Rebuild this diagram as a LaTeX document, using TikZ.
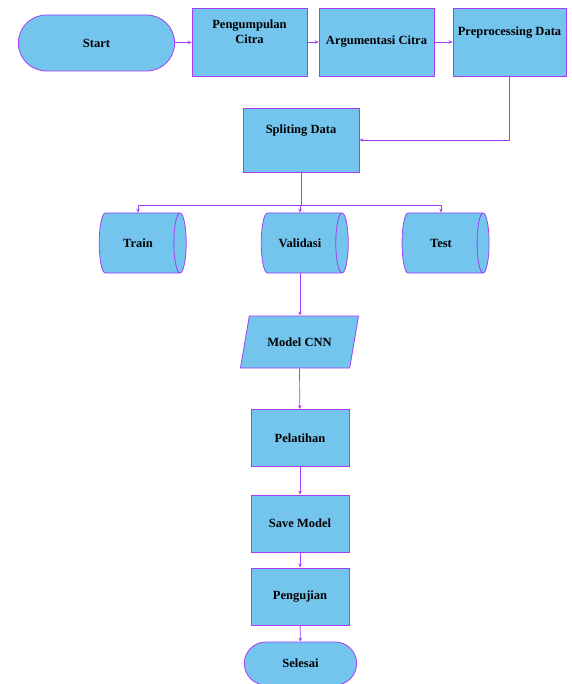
\documentclass[tikz,border=0pt]{standalone}
\usepackage{fontspec}
\setmainfont{Liberation Serif}
\usetikzlibrary{positioning,shapes.geometric,shapes.misc,arrows.meta}

\begin{document}
\begin{tikzpicture}[x=1pt,y=-1pt,
  font=\bfseries\fontsize{12.5}{15}\selectfont,
  box/.style={rectangle,draw=garis,fill=isian,line width=0.8pt,align=center,inner sep=1pt},
  atas/.style={text depth=21pt},
  ujung/.style={rounded rectangle,draw=garis,fill=isian,line width=0.8pt},
  tabung/.style={cylinder,shape border rotate=0,aspect=0.8,draw=garis,fill=isian,
    line width=0.8pt,minimum width=60pt,minimum height=87pt},
  panah/.style={draw=garis,line width=0.7pt,-{Stealth[length=4pt,width=3.5pt]}}]
  \definecolor{isian}{HTML}{74C5EE}
  \definecolor{garis}{HTML}{A43DF5}

  \useasboundingbox (0,0) rectangle (571,684);

  % baris atas
  \node[ujung,minimum width=163pt,minimum height=56pt] (start) at (96.5,43) {Start};
  \node[box,atas,minimum width=115pt,minimum height=68pt] (kumpul) at (249.5,42) {Pengumpulan\\Citra};
  \node[box,minimum width=115pt,minimum height=68pt] (argumen) at (376.5,42) {Argumentasi Citra};
  \node[box,atas,minimum width=113pt,minimum height=68pt] (prepro) at (509.5,42) {Preprocessing Data};
  \node[box,atas,minimum width=116pt,minimum height=64pt] (split) at (301,140) {Spliting Data};

  % pembagian data
  \foreach \nama/\teks/\x in {train/Train/138, val/Validasi/300, test/Test/441}
    \node[tabung] (\nama) at (\x,243) {\teks};

  \node[trapezium,trapezium left angle=68,trapezium right angle=112,trapezium stretches=true,
    draw=garis,fill=isian,line width=0.8pt,minimum width=119pt,minimum height=52pt]
    (cnn) at (299.5,342) {Model CNN};

  \foreach \nama/\teks/\y in {latih/Pelatihan/438, simpan/Save Model/523.5, uji/Pengujian/596.5}
    \node[box,minimum width=98pt,minimum height=57pt] (\nama) at (300,\y) {\teks};
  \node[ujung,minimum width=119pt,minimum height=43pt] (selesai) at (300.5,663.5) {Selesai};

  % penghubung
  \draw[panah] (start) -- (kumpul);
  \draw[panah] (kumpul) -- (argumen);
  \draw[panah] (argumen) -- (prepro);
  \draw[panah] (prepro.south) |- (split.east);
  \draw[draw=garis,line width=0.7pt] (split.south) -- ++(0,33) coordinate (cabang);
  \draw[panah] (cabang) -| (train.north);
  \draw[panah] (cabang) -| (val.north);
  \draw[panah] (cabang) -| (test.north);
  \draw[panah] (val.south) -- (val.south |- cnn.north);
  \draw[panah] (cnn.south) -- (latih);
  \draw[panah] (latih) -- (simpan);
  \draw[panah] (simpan) -- (uji);
  \draw[panah] (uji) -- (selesai);
\end{tikzpicture}
\end{document}
